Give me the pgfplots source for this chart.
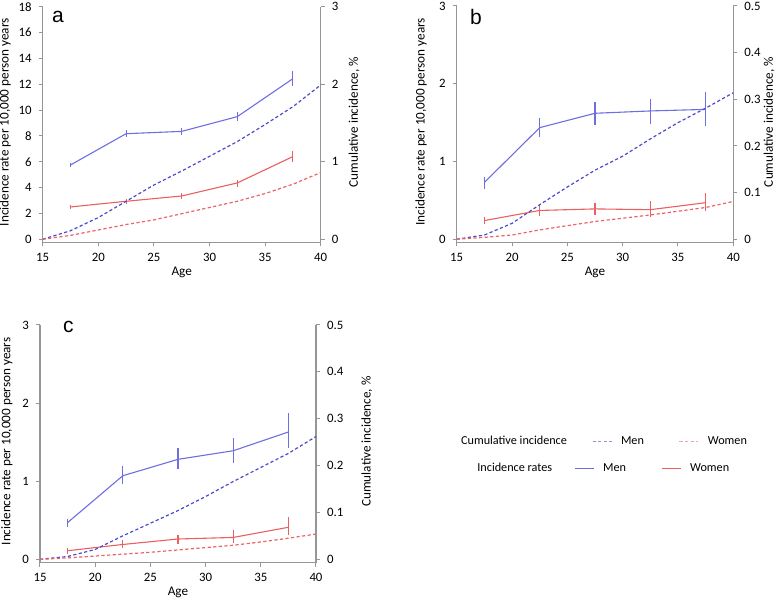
\documentclass[border=0pt]{standalone}
\usepackage{pgfplots}
\pgfplotsset{compat=1.18}
\usepackage{fontspec}
\setmainfont{Carlito}
\newfontfamily\letterfont{Liberation Sans}
\definecolor{menIR}{RGB}{110,110,225}
\definecolor{menCum}{RGB}{75,75,205}
\definecolor{womIR}{RGB}{235,95,95}
\definecolor{womCum}{RGB}{235,100,100}
\definecolor{axgray}{RGB}{150,150,150}
\newcommand{\sz}{\fontsize{6.1}{7}\selectfont}
\newcommand{\lsz}{\fontsize{6.6}{7.5}\selectfont}
\newcommand{\tsz}{\fontsize{6.4}{7.5}\selectfont}
\pgfplotsset{
  base/.style={
    scale only axis, xmin=15, xmax=40, clip mode=individual,
    axis line style={-, draw=axgray, line width=0.6pt},
    tick style={draw=axgray, line width=0.5pt},
    major tick length=2pt,
    tick align=outside,
    /pgf/number format/assume math mode=true,
    tick label style={font=\tsz},
  },
  leftax/.style={base, axis x line*=bottom, axis y line*=left, xtick={15,20,...,40}, xlabel={Age}, ylabel={Incidence rate per 10,000 person years}},
  rightax/.style={base, axis x line=none, axis y line*=right, ylabel={Cumulative incidence, \%}},
  ir/.style={line width=0.55pt, error bars/y dir=both, error bars/y explicit, error bars/error mark=none, error bars/error bar style={line width=0.55pt}},
  cum/.style={line width=0.6pt, dash pattern=on 1.6pt off 1.2pt},
  legimg/.style={legend image code/.code={\draw[##1] (0pt,0pt) -- (9.5pt,0pt);}},
}
\begin{document}
\begin{tikzpicture}
%%%%%%%%%%%%%%%% Panel a
\begin{axis}[leftax, at={(21.35pt,178.25pt)}, anchor=south west, width=139pt, height=117.9pt,
  ymin=-0.25, ymax=18, ytick={0,2,...,18},
  every axis y label/.style={at={(axis description cs:-0.135,0.51)}, rotate=90, anchor=center, font=\lsz},
  every axis x label/.style={at={(axis description cs:0.5,-0.128)}, anchor=center, font=\lsz}]
\addplot[menIR, ir] table[x=x, y=y, y error plus=ep, y error minus=em] {
x y ep em
17.5 5.75 0.18 0.18
22.5 8.17 0.29 0.28
27.5 8.35 0.28 0.28
32.5 9.49 0.36 0.36
37.5 12.43 0.62 0.57
};
\addplot[womIR, ir] table[x=x, y=y, y error plus=ep, y error minus=em] {
x y ep em
17.5 2.50 0.13 0.15
22.5 2.94 0.18 0.21
27.5 3.35 0.21 0.20
32.5 4.36 0.26 0.31
37.5 6.40 0.43 0.44
};
\node[font=\letterfont\fontsize{10.5}{12}\selectfont] at (axis description cs:0.055,0.956) {a};
\end{axis}
\begin{axis}[rightax, at={(21.35pt,178.25pt)}, anchor=south west, width=139pt, height=117.9pt,
  ymin=-0.041667, ymax=3, ytick={0,1,2,3},
  every axis y label/.style={at={(axis description cs:1.12,0.51)}, rotate=90, anchor=center, font=\lsz}]
\addplot[menCum, cum] table {
15 0
17.5 0.11
20 0.28
22.5 0.49
25 0.70
27.5 0.88
30 1.07
32.5 1.26
35 1.48
37.5 1.71
40 1.99
};
\addplot[womCum, cum] table {
15 0
17.5 0.05
20 0.12
22.5 0.19
25 0.25
27.5 0.33
30 0.41
32.5 0.49
35 0.59
37.5 0.71
40 0.86
};
\end{axis}
%%%%%%%%%%%%%%%% Panel b
\begin{axis}[leftax, at={(228.35pt,178.25pt)}, anchor=south west, width=138.3pt, height=118.25pt,
  ymin=-0.042, ymax=3, ytick={0,1,2,3},
  every axis y label/.style={at={(axis description cs:-0.129,0.51)}, rotate=90, anchor=center, font=\lsz},
  every axis x label/.style={at={(axis description cs:0.5,-0.128)}, anchor=center, font=\lsz}]
\addplot[menIR, ir] table[x=x, y=y, y error plus=ep, y error minus=em] {
x y ep em
17.5 0.73 0.07 0.08
22.5 1.435 0.125 0.125
27.5 1.62 0.15 0.15
32.5 1.65 0.15 0.17
37.5 1.67 0.23 0.21
};
\addplot[womIR, ir] table[x=x, y=y, y error plus=ep, y error minus=em] {
x y ep em
17.5 0.24 0.04 0.04
22.5 0.37 0.07 0.07
27.5 0.39 0.07 0.08
32.5 0.38 0.11 0.09
37.5 0.47 0.13 0.11
};
\node[font=\letterfont\fontsize{10.5}{12}\selectfont] at (axis description cs:0.07,0.955) {b};
\end{axis}
\begin{axis}[rightax, at={(228.35pt,178.25pt)}, anchor=south west, width=138.3pt, height=118.25pt,
  ymin=-0.007, ymax=0.5, ytick={0,0.1,...,0.5},
  every axis y label/.style={at={(axis description cs:1.13,0.51)}, rotate=90, anchor=center, font=\lsz}]
\addplot[menCum, cum] table {
15 0
17.5 0.009
20 0.034
22.5 0.074
25 0.112
27.5 0.148
30 0.178
32.5 0.215
35 0.250
37.5 0.281
40 0.314
};
\addplot[womCum, cum] table {
15 0
17.5 0.004
20 0.009
22.5 0.020
25 0.029
27.5 0.038
30 0.045
32.5 0.052
35 0.060
37.5 0.068
40 0.081
};
\end{axis}
%%%%%%%%%%%%%%%% Panel c
\begin{axis}[leftax, at={(20pt,18.2pt)}, anchor=south west, width=138pt, height=118.8pt,
  ymin=-0.042, ymax=3, ytick={0,1,2,3},
  every axis y label/.style={at={(axis description cs:-0.12,0.51)}, rotate=90, anchor=center, font=\lsz},
  every axis x label/.style={at={(axis description cs:0.5,-0.127)}, anchor=center, font=\lsz},
  legimg, legend columns=3,
  legend style={at={(axis description cs:1.5507,0.394)}, anchor=west, draw=none, fill=none, inner sep=0pt,
    nodes={inner sep=0pt, font=\sz},
    /tikz/every odd column/.style={column sep=4.5pt},
    /tikz/every even column/.style={column sep=17.5pt},
    /tikz/row 1 column 2/.style={column sep=11pt}}]
\addlegendimage{empty legend}\addlegendentry{Incidence rates}
\addlegendimage{menIR, line width=0.5pt}\addlegendentry{Men}
\addlegendimage{womIR, line width=0.5pt}\addlegendentry{Women}
\addplot[menIR, ir, forget plot] table[x=x, y=y, y error plus=ep, y error minus=em] {
x y ep em
17.5 0.47 0.05 0.06
22.5 1.07 0.12 0.11
27.5 1.28 0.15 0.12
32.5 1.39 0.16 0.16
37.5 1.63 0.24 0.20
};
\addplot[womIR, ir, forget plot] table[x=x, y=y, y error plus=ep, y error minus=em] {
x y ep em
17.5 0.11 0.03 0.04
22.5 0.19 0.06 0.05
27.5 0.26 0.05 0.06
32.5 0.28 0.09 0.07
37.5 0.41 0.13 0.10
};
\node[font=\letterfont\fontsize{10.5}{12}\selectfont] at (axis description cs:0.103,0.99) {c};
\end{axis}
\begin{axis}[rightax, at={(20pt,18.2pt)}, anchor=south west, width=138pt, height=118.8pt,
  ymin=-0.007, ymax=0.5, ytick={0,0.1,...,0.5},
  every axis y label/.style={at={(axis description cs:1.184,0.51)}, rotate=90, anchor=center, font=\lsz},
  legimg, legend columns=3,
  legend style={at={(axis description cs:1.4917,0.5088)}, anchor=west, draw=none, fill=none, inner sep=0pt,
    nodes={inner sep=0pt, font=\sz},
    /tikz/every odd column/.style={column sep=4.5pt},
    /tikz/every even column/.style={column sep=17.5pt},
    /tikz/row 1 column 2/.style={column sep=12.5pt}}]
\addlegendimage{empty legend}\addlegendentry{Cumulative incidence}
\addlegendimage{menCum!60, line width=0.5pt, dash pattern=on 1.6pt off 1.2pt}\addlegendentry{Men}
\addlegendimage{womCum!60, line width=0.5pt, dash pattern=on 1.6pt off 1.2pt}\addlegendentry{Women}
\addplot[menCum, cum, forget plot] table {
15 0
17.5 0.006
20 0.021
22.5 0.050
25 0.077
27.5 0.104
30 0.134
32.5 0.166
35 0.196
37.5 0.226
40 0.262
};
\addplot[womCum, cum, forget plot] table {
15 0
17.5 0.003
20 0.007
22.5 0.011
25 0.015
27.5 0.020
30 0.025
32.5 0.030
35 0.037
37.5 0.045
40 0.054
};
\end{axis}
\pgfresetboundingbox
\useasboundingbox (0,0) rectangle (389pt,299.5pt);
\end{tikzpicture}
\end{document}
